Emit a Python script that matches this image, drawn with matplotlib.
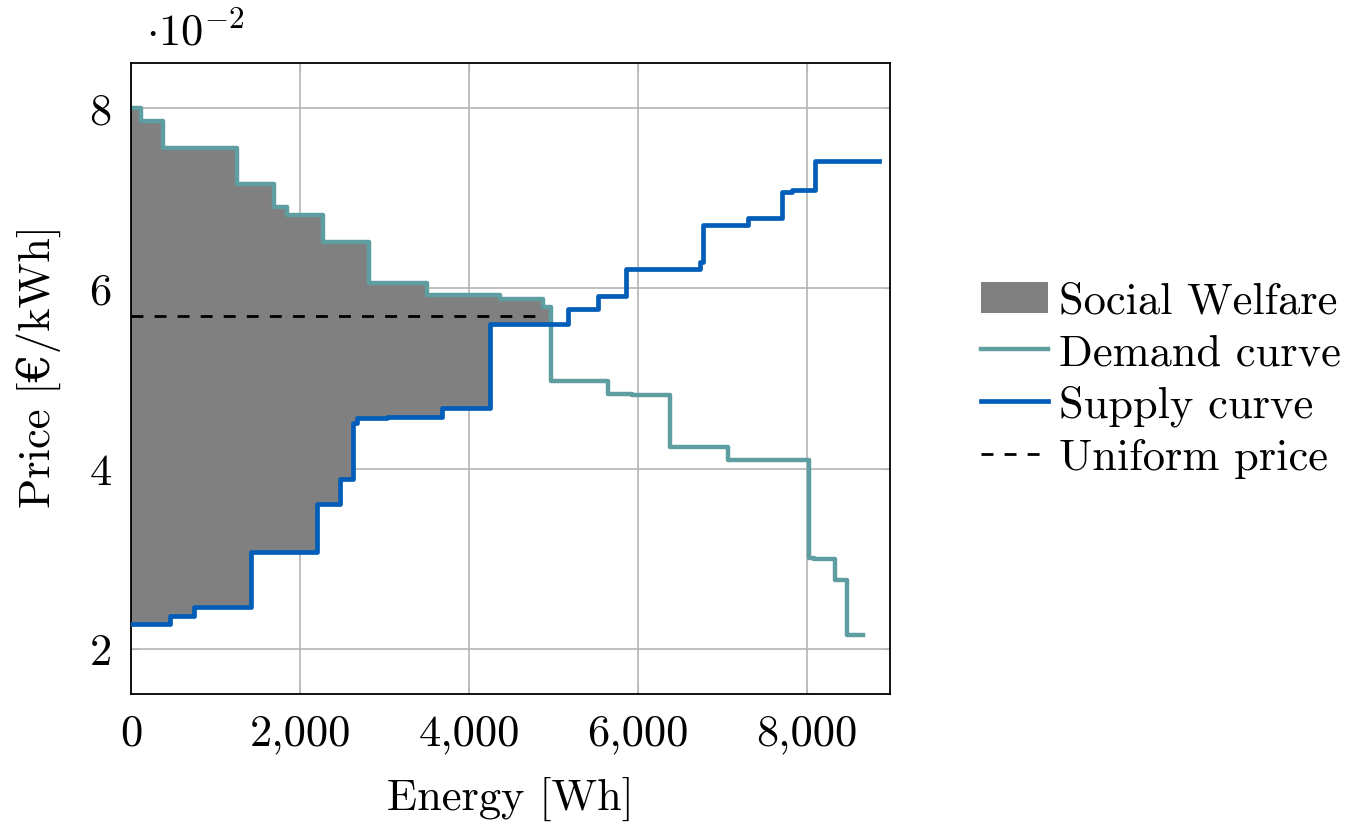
import numpy as np
import matplotlib
matplotlib.use('Agg')
import matplotlib.pyplot as plt
from matplotlib.ticker import FuncFormatter
from matplotlib.patches import Patch
from matplotlib.lines import Line2D

plt.rcParams['font.family'] = ['cmr10', 'DejaVu Serif']
plt.rcParams['mathtext.fontset'] = 'cm'
plt.rcParams['axes.formatter.use_mathtext'] = True
plt.rcParams['font.size'] = 32

# ===================== data (Wh, EUR/kWh) =====================
demand_q = [0, 120, 382, 1258, 1692, 1842, 2276, 2820, 3499, 4367, 4872, 4966,
            5649, 5925, 6379, 7068, 8016, 8075, 8331, 8470, 8666]
demand_p = [0.0800, 0.0786, 0.0756, 0.0716, 0.0690, 0.0681, 0.0651, 0.0606, 0.0593,
            0.0588, 0.0579, 0.0497, 0.0483, 0.0482, 0.0424, 0.0410, 0.0301, 0.0300,
            0.0276, 0.0215]

supply_q = [0, 461, 745, 1416, 2197, 2473, 2631, 2670, 3026, 3676, 4248, 5175,
            5530, 5858, 6733, 6773, 7305, 7700, 7818, 8094, 8855]
supply_p = [0.0228, 0.0236, 0.0247, 0.0308, 0.0361, 0.0389, 0.0451, 0.0456, 0.0457,
            0.0467, 0.0560, 0.0577, 0.0592, 0.0621, 0.0629, 0.0670, 0.0678, 0.0707,
            0.0709, 0.0741]

uniform_q = [0, 4850]
uniform_p = 0.0569

demand_color = '#5f9ea0'
supply_color = '#005eb8'
welfare_color = '#808080'
dash = (0, (4.3, 4))

# ===================== social welfare area =====================
def step_value(edges, levels, x):
    idx = np.searchsorted(edges, x, side='right') - 1
    idx = np.clip(idx, 0, len(levels) - 1)
    return np.asarray(levels)[idx]

grid = np.unique(np.concatenate([demand_q[:-1], supply_q[:-1]]))
d_grid = step_value(demand_q, demand_p, grid)
s_grid = step_value(supply_q, supply_p, grid)
stop = np.argmax(d_grid <= s_grid)
fill_x = grid[:stop + 1]
fill_lo = s_grid[:stop + 1]
fill_hi = d_grid[:stop + 1]

# ===================== plot =====================
fig = plt.figure(figsize=(13.5, 8.28), dpi=100)
ax = fig.add_axes([131 / 1350, 1 - 695 / 828, 759 / 1350, 631 / 828])

ax.fill_between(fill_x, fill_lo, fill_hi, step='post', color=welfare_color,
                linewidth=0, zorder=1)
ax.step(demand_q, demand_p + [demand_p[-1]], where='post', color=demand_color,
        linewidth=3.2, zorder=2)
ax.step(supply_q, supply_p + [supply_p[-1]], where='post', color=supply_color,
        linewidth=3.4, zorder=3)
ax.plot(uniform_q, [uniform_p, uniform_p], color='black', linestyle=dash,
        linewidth=2, zorder=4)

ax.set_xlim(0, 8980)
ax.set_ylim(0.015, 0.085)
ax.set_xticks([0, 2000, 4000, 6000, 8000])
ax.set_yticks([0.02, 0.04, 0.06, 0.08])
ax.xaxis.set_major_formatter(FuncFormatter(lambda v, p: f'{int(v):,}'))
ax.yaxis.set_major_formatter(FuncFormatter(lambda v, p: f'{v * 100:.0f}'))
ax.grid(True, color='#b4b4b4', linewidth=1.2)
ax.set_axisbelow(True)
ax.tick_params(direction='in', length=6, color='#b4b4b4', top=True, right=True)
ax.tick_params(axis='x', pad=14)
ax.tick_params(axis='y', pad=14)
for s in ax.spines.values():
    s.set_linewidth(1.3)

ax.set_xlabel('Energy [Wh]')
ax.xaxis.set_label_coords(0.5, -0.13)
ax.set_ylabel('Price [€/kWh]')
ax.yaxis.set_label_coords(-0.092, 0.52)

fig.text(146 / 1350, 1 - 46 / 828, r'$\cdot 10^{-2}$', fontsize=32, va='baseline')

handles = [
    Patch(facecolor=welfare_color, edgecolor='none'),
    Line2D([], [], color=demand_color, linewidth=3.2),
    Line2D([], [], color=supply_color, linewidth=3.4),
    Line2D([], [], color='black', linestyle=dash, linewidth=2),
]
labels = ['Social Welfare', 'Demand curve', 'Supply curve', 'Uniform price']
fig.legend(handles, labels, loc='center left', bbox_to_anchor=(0.697, 0.54),
           frameon=False, handlelength=1.5, handletextpad=0.25, labelspacing=0.26,
           handleheight=0.7)

fig.savefig('out.png', dpi=100)
